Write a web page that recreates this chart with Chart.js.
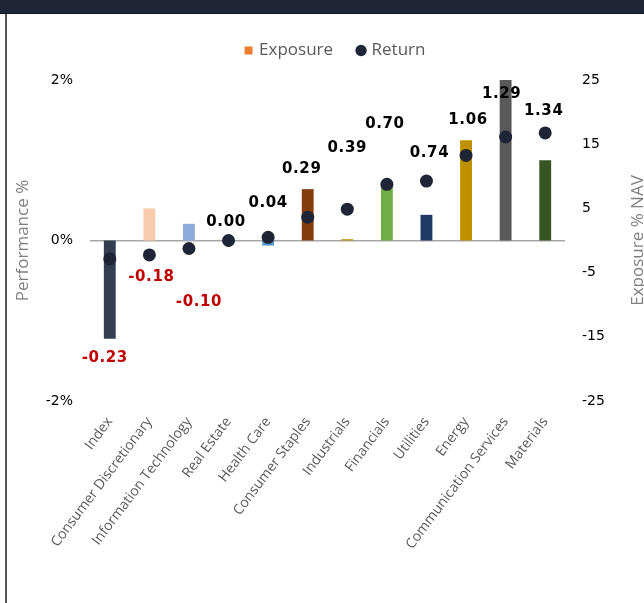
<!DOCTYPE html>
<html>
<head>
<meta charset="utf-8">
<script src="https://cdn.jsdelivr.net/npm/chart.js@4.4.0/dist/chart.umd.min.js"></script>
<style>
  html, body { margin:0; padding:0; background:#ffffff; overflow:hidden; }
  #header { position:absolute; left:0; top:0; width:644px; height:13px; background:#1f2536; border-bottom:1px solid #10131c; }
  #frame { position:absolute; left:5px; top:14px; width:0; height:589px; border-left:2px solid #555555; }
  #wrap { position:absolute; left:0; top:0; width:644px; height:603px; }
</style>
</head>
<body>
<div id="header"></div>
<div id="frame"></div>
<div id="wrap"><canvas id="c" width="644" height="603"></canvas></div>
<script>
// ---- data ----
const categories = ['Index','Consumer Discretionary','Information Technology','Real Estate','Health Care','Consumer Staples','Industrials','Financials','Utilities','Energy','Communication Services','Materials'];
const exposure = [-15.3, 5.0, 2.6, 0.0, -0.8, 8.0, 0.2, 8.8, 4.0, 15.6, 25.0, 12.5];
const returns  = [-0.23, -0.18, -0.10, 0.00, 0.04, 0.29, 0.39, 0.70, 0.74, 1.06, 1.29, 1.34];
const perfTicks = [-2, 0, 2];
const exposureTicks = [-25, -15, -5, 5, 15, 25];

// ---- styles ----
const barColors = ['#333f50','#f8cbad','#8faadc','#a5a5a5','#5b9bd5','#843c0c','#bf9000','#70ad47','#203864','#bf9000','#595959','#375623'];
const dotColor = '#1f2536';
// label offsets in pixels relative to each return dot [dx, dy]
const labelOffsets = [[-5,99],[2,22],[10,54],[-2.5,-18],[0,-34],[-6,-48.5],[0,-61],[-2,-60.5],[3,-28],[2,-35],[-4,-42.5],[-1.5,-22]];

const legendTweak = {
  id: 'legendTweak',
  afterInit(chart) {
    const lg = chart.legend;
    if (lg && !lg._tweaked) {
      const origFit = lg.fit;
      lg.fit = function () { origFit.call(this); this.height += 11; };
      lg._tweaked = true;
    }
  },
  beforeDraw(chart) {
    const lg = chart.legend;
    if (lg) { lg.left = 14; lg.right = chart.width + 14; }
  }
};

const valueLabels = {
  id: 'valueLabels',
  afterDatasetsDraw(chart) {
    const meta = chart.getDatasetMeta(0);
    const ctx = chart.ctx;
    ctx.save();
    ctx.font = 'bold 15px "DejaVu Sans"';
    ctx.textAlign = 'center';
    ctx.textBaseline = 'middle';
    try { ctx.letterSpacing = '0.6px'; } catch (e) {}
    meta.data.forEach((pt, i) => {
      const v = returns[i];
      ctx.fillStyle = v < 0 ? '#c00000' : '#000000';
      const o = labelOffsets[i];
      ctx.fillText(v.toFixed(2), pt.x + o[0], pt.y + o[1]);
    });
    ctx.restore();
  }
};

const rightTitle = {
  id: 'rightTitle',
  afterDraw(chart) {
    const ctx = chart.ctx;
    const ca = chart.chartArea;
    ctx.save();
    ctx.translate(638, (ca.top + ca.bottom) / 2);
    ctx.rotate(-Math.PI / 2);
    ctx.font = '17px "Open Sans"';
    ctx.fillStyle = '#7f7f7f';
    ctx.textAlign = 'center';
    ctx.textBaseline = 'middle';
    ctx.fillText('Exposure % NAV', 0, 0);
    ctx.restore();
  }
};

new Chart(document.getElementById('c'), {
  type: 'bar',
  data: {
    labels: categories,
    datasets: [
      {
        type: 'line',
        label: 'Return',
        data: returns,
        yAxisID: 'y',
        showLine: false,
        pointRadius: 6.5,
        pointHoverRadius: 6.5,
        pointBackgroundColor: dotColor,
        pointBorderColor: dotColor,
        pointBorderWidth: 0,
        order: 0
      },
      {
        type: 'bar',
        label: 'Exposure',
        data: exposure,
        yAxisID: 'y1',
        backgroundColor: barColors,
        borderWidth: 0,
        categoryPercentage: 1.0,
        barPercentage: 0.3,
        order: 1
      }
    ]
  },
  options: {
    responsive: false,
    animation: false,
    devicePixelRatio: 1,
    layout: { padding: { top: 16, left: 0, right: 0, bottom: 0 } },
    plugins: {
      tooltip: { enabled: false },
      legend: {
        display: true,
        position: 'top',
        labels: {
          font: { family: 'Open Sans', size: 17 },
          color: '#595959',
          usePointStyle: true,
          boxHeight: 8,
          boxWidth: 4,
          padding: 26,
          generateLabels() {
            return [
              { text: 'Exposure', fillStyle: '#ed7d31', strokeStyle: '#ed7d31', lineWidth: 0, pointStyle: 'rect', fontColor: '#595959', datasetIndex: 1 },
              { text: 'Return', fillStyle: dotColor, strokeStyle: dotColor, lineWidth: 0, pointStyle: 'circle', fontColor: '#595959', datasetIndex: 0 }
            ];
          }
        }
      }
    },
    scales: {
      x: {
        grid: { display: false, drawTicks: false },
        border: { display: false },
        ticks: {
          autoSkip: false,
          maxRotation: 53,
          minRotation: 53,
          padding: 13,
          color: '#595959',
          font: { family: 'Open Sans', size: 14 }
        },
        afterFit(scale) { scale.height = 202; }
      },
      y: {
        position: 'left',
        min: -2, max: 2,
        afterBuildTicks(scale) { scale.ticks = perfTicks.map(v => ({ value: v })); },
        grid: {
          drawTicks: false,
          lineWidth: 1.5,
          color: c => (c.tick && c.tick.value === 0) ? '#a6a6a6' : 'rgba(0,0,0,0)'
        },
        border: { display: false },
        ticks: {
          padding: 17,
          color: '#000000',
          font: { family: 'DejaVu Sans', size: 14 },
          callback: v => v + '%'
        },
        title: {
          display: true,
          text: 'Performance %',
          color: '#7f7f7f',
          font: { family: 'Open Sans', size: 17 },
          padding: { top: 13, bottom: 0 }
        },
        afterFit(scale) { scale.width = 90; }
      },
      y1: {
        position: 'right',
        min: -25, max: 25,
        afterBuildTicks(scale) { scale.ticks = exposureTicks.map(v => ({ value: v })); },
        grid: { display: false, drawTicks: false },
        border: { display: false },
        ticks: {
          padding: 17,
          color: '#000000',
          font: { family: 'DejaVu Sans', size: 14 }
        },
        afterFit(scale) { scale.width = 79; }
      }
    }
  },
  plugins: [legendTweak, valueLabels, rightTitle]
});
</script>
</body>
</html>
